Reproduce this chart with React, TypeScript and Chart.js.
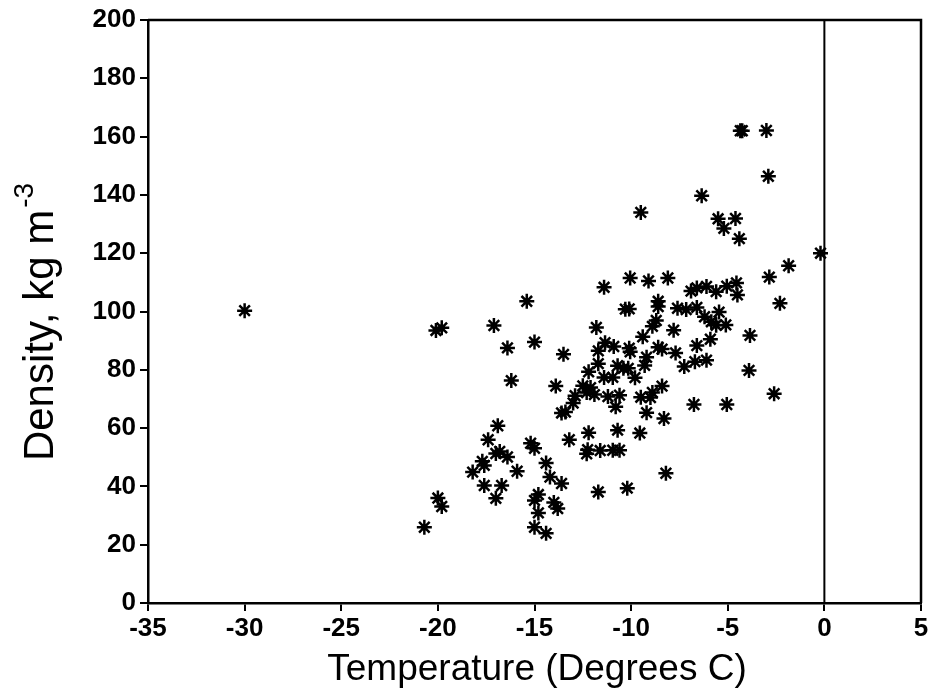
import React, { useEffect, useRef } from "react";
import { Chart, registerables } from "chart.js";

Chart.register(...registerables);

const temperatures: number[] = [
  -30.0, -20.1, -19.8, -17.1, -15.4, -16.4, -15.0, -13.5, -16.2, -13.9,
  -13.4, -13.6, -16.9, -17.4, -15.2, -15.0, -13.2, -17.0, -16.8, -16.4,
  -17.6, -17.7, -18.2, -15.9, -14.4, -14.2, -13.6, -17.6, -16.7, -17.0,
  -20.0, -19.8, -14.8, -15.0, -14.0, -13.8, -14.8, -20.7, -15.0, -14.4,
  -11.4, -10.05, -9.1, -8.1, -6.9, -10.3, -10.1, -8.6, -8.6, -7.6,
  -7.15, -11.8, -8.7, -8.9, -7.8, -9.4, -11.35, -10.9, -11.7, -10.1,
  -10.05, -8.6, -8.4, -7.7, -7.25, -9.2, -9.3, -11.7, -10.7, -10.4,
  -10.15, -12.2, -9.8, -11.4, -10.95, -12.5, -12.1, -12.3, -12.9, -11.9,
  -11.2, -10.6, -9.5, -8.9, -9.0, -8.4, -10.8, -13.0, -9.2, -8.3,
  -12.2, -10.7, -9.55, -12.25, -12.3, -11.6, -10.95, -10.6, -8.2, -11.7,
  -10.2, -9.5, -4.35, -4.25, -3.0, -2.9, -6.35, -5.5, -4.6, -5.2,
  -4.4, -0.2, -1.85, -2.85, -4.55, -4.5, -5.05, -5.6, -6.1, -6.6,
  -2.3, -6.6, -6.2, -5.45, -5.85, -5.6, -5.1, -3.85, -5.9, -6.6,
  -6.7, -6.1, -3.9, -2.6, -6.75, -5.05,
];

const densities: number[] = [
  100.3, 93.5, 94.4, 95.2, 103.5, 87.5, 89.5, 85.3, 76.3, 74.4,
  65.5, 65.2, 60.8, 56.0, 54.8, 53.1, 56.0, 51.3, 52.0, 50.1,
  47.2, 48.6, 44.9, 45.2, 48.0, 43.2, 41.0, 40.3, 40.3, 35.9,
  36.0, 33.1, 37.2, 35.2, 34.5, 32.4, 30.9, 26.0, 26.0, 23.9,
  108.3, 111.5, 110.5, 111.5, 107.0, 100.8, 100.9, 103.5, 101.7, 101.1,
  100.7, 94.5, 96.9, 94.9, 93.6, 91.3, 89.3, 88.0, 86.5, 87.4,
  86.2, 87.7, 87.1, 85.8, 81.1, 84.3, 81.5, 82.1, 81.4, 80.5,
  80.5, 79.3, 77.3, 77.4, 77.4, 74.5, 73.9, 72.2, 71.1, 71.5,
  70.8, 71.3, 70.6, 72.2, 70.5, 74.4, 67.3, 68.6, 65.3, 63.3,
  58.4, 59.3, 58.3, 52.6, 51.2, 52.3, 52.4, 52.4, 44.5, 38.1,
  39.4, 134.0, 162.0, 162.0, 162.1, 146.4, 139.7, 131.8, 131.9, 128.5,
  125.0, 120.0, 115.7, 111.8, 109.8, 105.7, 108.7, 106.8, 108.6, 108.1,
  102.8, 101.4, 98.2, 99.8, 96.5, 95.3, 95.4, 91.8, 90.5, 88.3,
  82.8, 83.3, 79.8, 71.8, 68.1, 68.1,
];

const xTitle = "Temperature (Degrees C)";
const yTitleMain = "Density, kg m";
const yTitleSup = "-3";
const xMin = -35, xMax = 5, xStep = 5;
const yMin = 0, yMax = 200, yStep = 20;

const FONT = "'Liberation Sans', Arial, Helvetica, sans-serif";

const decorPlugin = {
  id: "decor",
  afterDraw(chart: any) {
    const { ctx, chartArea } = chart;
    const xs = chart.scales.x;
    ctx.save();
    ctx.strokeStyle = "#000";
    // top and right frame
    ctx.lineWidth = 2.5;
    ctx.beginPath();
    ctx.moveTo(chartArea.left, chartArea.top);
    ctx.lineTo(chartArea.right, chartArea.top);
    ctx.lineTo(chartArea.right, chartArea.bottom);
    ctx.stroke();
    // vertical line at zero
    const x0 = xs.getPixelForValue(0);
    ctx.lineWidth = 2;
    ctx.beginPath();
    ctx.moveTo(x0, chartArea.top);
    ctx.lineTo(x0, chartArea.bottom);
    ctx.stroke();
    // x title
    ctx.fillStyle = "#000";
    ctx.font = `37px ${FONT}`;
    ctx.textAlign = "center";
    ctx.textBaseline = "alphabetic";
    ctx.fillText(xTitle, 537, 680);
    // y title
    ctx.translate(53, 322);
    ctx.rotate(-Math.PI / 2);
    ctx.font = `42px ${FONT}`;
    const wMain = ctx.measureText(yTitleMain).width;
    ctx.font = `28px ${FONT}`;
    const wSup = ctx.measureText(yTitleSup).width;
    const gap = 2;
    const total = wMain + wSup + gap;
    ctx.textAlign = "left";
    ctx.font = `42px ${FONT}`;
    ctx.fillText(yTitleMain, -total / 2, 0);
    ctx.font = `28px ${FONT}`;
    ctx.fillText(yTitleSup, -total / 2 + wMain + gap, -20);
    ctx.restore();
  },
};

export default function App() {
  const ref = useRef<HTMLCanvasElement | null>(null);
  useEffect(() => {
    if (!ref.current) return;
    const points = temperatures.map((t, i) => ({ x: t, y: densities[i] }));
    const tickFont = { family: FONT, size: 26, weight: "bold" as const };
    const chart = new Chart(ref.current, {
      type: "scatter",
      data: {
        datasets: [
          {
            data: points,
            pointStyle: "star",
            pointRadius: 7.5,
            pointBorderWidth: 2.5,
            borderColor: "#000",
            backgroundColor: "#000",
          },
        ],
      },
      options: {
        animation: false,
        responsive: false,
        devicePixelRatio: 1,
        layout: { padding: { top: 20, right: 14, left: 0, bottom: 0 } },
        plugins: { legend: { display: false }, tooltip: { enabled: false } },
        scales: {
          x: {
            type: "linear",
            min: xMin,
            max: xMax,
            ticks: { stepSize: xStep, color: "#000", font: tickFont, padding: 2, maxRotation: 0 },
            grid: { drawOnChartArea: false, drawTicks: true, tickLength: 8, color: "#000", lineWidth: 2 },
            border: { display: true, color: "#000", width: 2.5 },
            afterFit: (s: any) => { s.height = 92; },
          },
          y: {
            type: "linear",
            min: yMin,
            max: yMax,
            ticks: { stepSize: yStep, color: "#000", font: tickFont, padding: 4 },
            grid: { drawOnChartArea: false, drawTicks: true, tickLength: 8, color: "#000", lineWidth: 2 },
            border: { display: true, color: "#000", width: 2.5 },
            afterFit: (s: any) => { s.width = 148; },
          },
        },
      },
      plugins: [decorPlugin],
    });
    return () => chart.destroy();
  }, []);
  return (
    <div style={{ position: "absolute", left: 0, top: 0, width: 935, height: 695, background: "#fff" }}>
      <canvas ref={ref} width={935} height={695} />
    </div>
  );
}
